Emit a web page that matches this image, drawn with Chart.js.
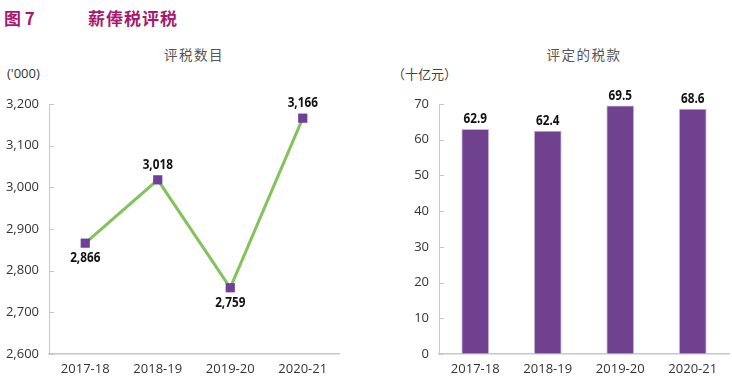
<!DOCTYPE html>
<html><head><meta charset="utf-8">
<script src="https://cdn.jsdelivr.net/npm/chart.js@4.4.0/dist/chart.umd.min.js"></script>
<style>
html,body{margin:0;padding:0;background:#fff;width:732px;height:384px;overflow:hidden;position:relative;font-family:"Noto Sans CJK SC","Open Sans",sans-serif;}
#t1{position:absolute;left:4px;top:7px;font-size:17px;font-weight:bold;color:#a8186e;font-family:"Noto Sans CJK SC",sans-serif;line-height:22px;}
#t2{position:absolute;left:88px;top:7px;font-size:17px;font-weight:bold;color:#a8186e;font-family:"Noto Sans CJK SC",sans-serif;line-height:22px;letter-spacing:1px;}
.sub{position:absolute;font-size:13.5px;color:#555;font-family:"Noto Sans CJK SC",sans-serif;transform:translateX(-50%);letter-spacing:1.5px;}
.unit{position:absolute;font-size:13px;color:#333;}
#c1{position:absolute;left:0;top:0;}
#c2{position:absolute;left:370px;top:0;}
</style></head>
<body>
<div id="t1">图 7</div>
<div id="t2">薪俸税评税</div>
<div class="sub" style="left:194px;top:44px;">评税数目</div>
<div class="sub" style="left:584px;top:44px;">评定的税款</div>
<div class="unit" style="left:7px;top:64px;font-family:'Open Sans',sans-serif;">('000)</div>
<div class="unit" style="left:392px;top:64px;font-family:'Noto Sans CJK SC',sans-serif;color:#444;">（十亿元）</div>
<canvas id="c1" width="360" height="384"></canvas>
<canvas id="c2" width="362" height="384"></canvas>
<script>
const categories = ["2017-18", "2018-19", "2019-20", "2020-21"];
const assessments = [2866, 3018, 2759, 3166];
const taxAssessed = [62.9, 62.4, 69.5, 68.6];
const leftTicks = [2600, 2700, 2800, 2900, 3000, 3100, 3200];
const rightTicks = [0, 10, 20, 30, 40, 50, 60, 70];

const tickFont = {family: "'Open Sans', sans-serif", size: 13};
const labelFont = "bold 14px 'Open Sans', sans-serif";
const labelSquash = 0.84;

const innerTicks = {
  id: 'innerTicks',
  afterDraw(chart) {
    const ctx = chart.ctx, y = chart.scales.y, a = chart.chartArea;
    ctx.save();
    ctx.strokeStyle = '#c8c8c8';
    ctx.lineWidth = 1;
    y.ticks.forEach((t, i) => {
      const py = Math.round(y.getPixelForTick(i)) + 0.5;
      ctx.beginPath();
      ctx.moveTo(a.left, py);
      ctx.lineTo(a.left + 5, py);
      ctx.stroke();
    });
    ctx.restore();
  }
};

const valueLabels = {
  id: 'valueLabels',
  afterDatasetsDraw(chart) {
    const ctx = chart.ctx;
    const ds = chart.data.datasets[0];
    const meta = chart.getDatasetMeta(0);
    const isLine = chart.config.type === 'line';
    meta.data.forEach((el, i) => {
      const v = ds.data[i];
      let txt, y;
      if (isLine) {
        txt = v.toLocaleString('en-US');
        const ref = i > 0 ? ds.data[i - 1] : ds.data[i + 1];
        const above = v >= ref;
        y = above ? el.y - 15 : el.y + 15;
      } else {
        txt = v.toFixed(1);
        y = el.y - 10;
      }
      ctx.save();
      ctx.font = labelFont;
      ctx.fillStyle = '#111';
      ctx.textAlign = 'center';
      ctx.textBaseline = 'middle';
      ctx.translate(el.x, y);
      ctx.scale(labelSquash, 1);
      ctx.fillText(txt, 0, 0);
      ctx.restore();
    });
  }
};

function yScale(min, max, ticksArr, width) {
  return {
    min: min, max: max,
    afterBuildTicks(s) { s.ticks = ticksArr.map(v => ({value: v})); },
    afterFit(s) { s.width = width; },
    grid: {display: true, drawOnChartArea: false, drawTicks: false, color: '#c8c8c8'},
    border: {display: true, color: '#c8c8c8', width: 1},
    ticks: {color: '#333', font: tickFont, padding: 10,
      callback: v => v.toLocaleString('en-US')}
  };
}
function xScale() {
  return {
    offset: true,
    afterFit(s) { s.height = 30; },
    grid: {display: false, drawTicks: false},
    border: {display: true, color: '#c8c8c8', width: 1.5},
    ticks: {color: '#333', font: tickFont, padding: 7, maxRotation: 0}
  };
}

new Chart(document.getElementById('c1'), {
  type: 'line',
  data: {labels: categories, datasets: [{
    data: assessments,
    borderColor: '#82c35d', borderWidth: 3,
    pointStyle: 'rect', pointRadius: 6.5,
    pointBackgroundColor: '#6f3f99', pointBorderColor: '#6f3f99', pointBorderWidth: 0,
    tension: 0, clip: false
  }]},
  options: {
    responsive: false, animation: false,
    layout: {padding: {top: 104, right: 21, left: 0, bottom: 0}},
    plugins: {legend: {display: false}, tooltip: {enabled: false}},
    scales: {x: xScale(), y: yScale(2600, 3200, leftTicks, 49)}
  },
  plugins: [innerTicks, valueLabels]
});

new Chart(document.getElementById('c2'), {
  type: 'bar',
  data: {labels: categories, datasets: [{
    data: taxAssessed,
    backgroundColor: '#70418f', borderColor: '#c9b6d8', borderWidth: {top: 1, left: 1, right: 1, bottom: 0},
    barThickness: 27
  }]},
  options: {
    responsive: false, animation: false,
    layout: {padding: {top: 104, right: 3, left: 0, bottom: 0}},
    plugins: {legend: {display: false}, tooltip: {enabled: false}},
    scales: {x: xScale(), y: yScale(0, 70, rightTicks, 69)}
  },
  plugins: [innerTicks, valueLabels]
});
</script>
</body></html>
